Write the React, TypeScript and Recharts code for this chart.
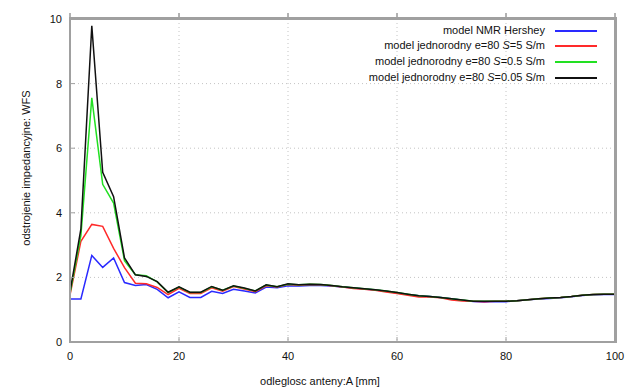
import React from 'react';
import { LineChart, Line, XAxis, YAxis, CartesianGrid, Legend, Label, ReferenceArea } from 'recharts';

const distances = [0, 2, 4, 6, 8, 10, 12, 14, 16, 18, 20, 22, 24, 26, 28, 30, 32, 34, 36, 38, 40, 42, 44, 46, 48, 50, 52, 54, 56, 58, 60, 62, 64, 66, 68, 70, 72, 74, 76, 78, 80, 82, 84, 86, 88, 90, 92, 94, 96, 98, 100];

const nmrHershey = [1.33, 1.33, 2.68, 2.31, 2.6, 1.84, 1.75, 1.78, 1.63, 1.37, 1.55, 1.38, 1.38, 1.57, 1.5, 1.63, 1.58, 1.52, 1.7, 1.68, 1.74, 1.73, 1.75, 1.75, 1.73, 1.7, 1.67, 1.64, 1.61, 1.57, 1.52, 1.47, 1.43, 1.41, 1.38, 1.34, 1.29, 1.25, 1.24, 1.25, 1.25, 1.28, 1.31, 1.33, 1.35, 1.37, 1.4, 1.44, 1.46, 1.47, 1.47];
const s5 = [1.45, 3.12, 3.64, 3.58, 2.9, 2.3, 1.82, 1.8, 1.69, 1.47, 1.66, 1.5, 1.5, 1.68, 1.57, 1.72, 1.64, 1.56, 1.74, 1.7, 1.78, 1.76, 1.78, 1.77, 1.74, 1.7, 1.66, 1.63, 1.6, 1.55, 1.5, 1.45, 1.39, 1.39, 1.37, 1.3, 1.27, 1.26, 1.25, 1.26, 1.26, 1.28, 1.31, 1.34, 1.36, 1.38, 1.41, 1.45, 1.47, 1.48, 1.48];
const s05 = [1.5, 3.3, 7.56, 4.88, 4.3, 2.52, 2.08, 2.05, 1.86, 1.53, 1.7, 1.53, 1.53, 1.71, 1.6, 1.73, 1.66, 1.58, 1.76, 1.71, 1.79, 1.77, 1.79, 1.78, 1.75, 1.71, 1.68, 1.65, 1.62, 1.58, 1.53, 1.48, 1.43, 1.41, 1.38, 1.34, 1.3, 1.26, 1.26, 1.26, 1.26, 1.28, 1.31, 1.34, 1.36, 1.38, 1.41, 1.45, 1.47, 1.48, 1.48];
const s005 = [1.55, 3.5, 9.79, 5.25, 4.5, 2.6, 2.08, 2.03, 1.87, 1.54, 1.71, 1.54, 1.54, 1.72, 1.6, 1.74, 1.67, 1.58, 1.77, 1.71, 1.8, 1.77, 1.79, 1.78, 1.75, 1.71, 1.68, 1.65, 1.62, 1.58, 1.53, 1.48, 1.43, 1.41, 1.38, 1.34, 1.3, 1.26, 1.26, 1.26, 1.26, 1.28, 1.31, 1.34, 1.36, 1.38, 1.41, 1.45, 1.47, 1.48, 1.48];

const xTicks = [0, 20, 40, 60, 80, 100];
const yTicks = [0, 2, 4, 6, 8, 10];

const series = [
  { key: 'a', pre: 'model NMR Hershey', it: '', post: '', color: '#2a2aff' },
  { key: 'b', pre: 'model jednorodny e=80 ', it: 'S', post: '=5 S/m', color: '#ff2a2a' },
  { key: 'c', pre: 'model jednorodny e=80 ', it: 'S', post: '=0.5 S/m', color: '#22e022' },
  { key: 'd', pre: 'model jednorodny e=80 ', it: 'S', post: '=0.05 S/m', color: '#111111' },
];

const data = distances.map((d, i) => ({
  x: d,
  a: nmrHershey[i],
  b: s5[i],
  c: s05[i],
  d: s005[i],
}));

const FONT = '"Liberation Sans", Arial, sans-serif';
const AX = '#a0a0a0';

const renderLegend = () => (
  <div style={{ position: 'relative', width: 310, height: 75 }}>
    {series.map((n, i) => {
      const y = 10.5 + 15.8 * i;
      return (
        <div key={n.key}>
          <div
            style={{
              position: 'absolute',
              right: 65,
              top: y - 7,
              whiteSpace: 'nowrap',
              fontFamily: FONT,
              fontSize: 11,
              lineHeight: '13px',
              color: '#111',
            }}
          >
            {n.pre}
            {n.it ? <i>{n.it}</i> : null}
            {n.post}
          </div>
          <div
            style={{
              position: 'absolute',
              left: 255,
              top: y - 1,
              width: 42,
              height: 2,
              background: n.color,
            }}
          />
        </div>
      );
    })}
  </div>
);

export default function App() {
  return (
    <div style={{ position: 'absolute', left: 0, top: 0, width: 627, height: 387 }}>
      <LineChart width={627} height={387} data={data} margin={{ top: 18, right: 11, bottom: 15, left: 20 }}>
        <CartesianGrid stroke="#c4c4c4" strokeDasharray="1 3" />
        <XAxis
          dataKey="x"
          type="number"
          domain={[0, 100]}
          ticks={xTicks}
          interval={0}
          height={30}
          axisLine={{ stroke: AX, strokeWidth: 2 }}
          tickLine={{ stroke: AX }}
          tickSize={-5}
          tickMargin={15}
          tick={{ fill: '#111', fontSize: 11, fontFamily: FONT }}
        >
          <Label
            content={() => (
              <text x={320} y={385} textAnchor="middle" fontFamily={FONT} fontSize={11} fill="#111">
                odleglosc anteny:A [mm]
              </text>
            )}
          />
        </XAxis>
        <XAxis
          xAxisId="top"
          dataKey="x"
          type="number"
          domain={[0, 100]}
          ticks={xTicks}
          orientation="top"
          height={1}
          axisLine={{ stroke: AX, strokeWidth: 2 }}
          tick={() => <g />}
        />
        <YAxis
          type="number"
          domain={[0, 10]}
          ticks={yTicks}
          interval={0}
          width={50}
          axisLine={{ stroke: AX, strokeWidth: 2 }}
          tickLine={{ stroke: AX }}
          tickSize={-5}
          tickMargin={13}
          tick={{ fill: '#111', fontSize: 11, fontFamily: FONT }}
        >
          <Label
            content={() => (
              <text x={30} y={168} textAnchor="middle" fontFamily={FONT} fontSize={11} fill="#111" transform="rotate(-90 30 168)">
                odstrojenie impedancyjne: WFS
              </text>
            )}
          />
        </YAxis>
        <YAxis
          yAxisId="right"
          type="number"
          domain={[0, 10]}
          ticks={yTicks}
          orientation="right"
          width={1}
          axisLine={{ stroke: AX, strokeWidth: 2 }}
          tick={() => <g />}
        />
        <ReferenceArea x1={0} x2={100} y1={0} y2={10} stroke={AX} strokeWidth={2} fill="none" />
        <Legend
          layout="vertical"
          align="center"
          verticalAlign="middle"
          wrapperStyle={{ position: 'absolute', left: 300, top: 20, width: 310, height: 75 }}
          content={renderLegend}
        />
        {series.map((s) => (
          <Line key={s.key} type="linear" dataKey={s.key} stroke={s.color} strokeWidth={1.5} dot={false} isAnimationActive={false} />
        ))}
      </LineChart>
      <div
        style={{
          position: 'absolute',
          left: 69,
          top: 17,
          width: 548,
          height: 326,
          boxSizing: 'border-box',
          border: `2px solid ${AX}`,
          pointerEvents: 'none',
        }}
      />
    </div>
  );
}
